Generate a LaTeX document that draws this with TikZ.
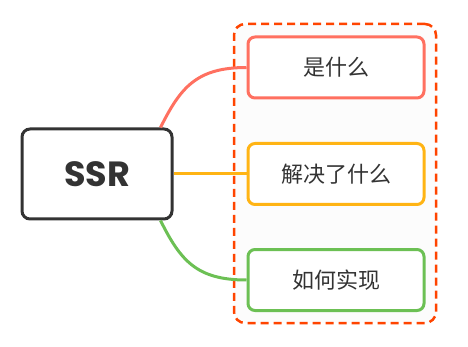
\documentclass[tikz,border=0pt]{standalone}
\usepackage{fontspec}
\setmainfont{Poppins}
\newfontfamily\cjk{Noto Sans CJK SC}
\definecolor{cRed}{RGB}{255,112,96}
\definecolor{cOrange}{RGB}{255,180,20}
\definecolor{cGreen}{RGB}{108,192,84}
\definecolor{cDark}{RGB}{51,51,51}
\definecolor{cDash}{RGB}{255,68,0}
\tikzset{
  topicbox/.style={draw, line width=3pt, rounded corners=7pt, minimum width=176pt, minimum height=61pt, fill=white, text=cDark, font=\cjk\fontsize{22}{24}\selectfont, inner sep=0pt},
  rootbox/.style={draw=cDark, line width=3pt, rounded corners=8pt, minimum width=150pt, minimum height=90pt, fill=white, text=cDark, font=\bfseries\fontsize{35}{38}\selectfont, inner sep=0pt},
  branch/.style={line width=3pt}
}
\begin{document}
\begin{tikzpicture}[x=1pt,y=-1pt]
\useasboundingbox (0,0) rectangle (468,347);
\node[draw=cDash, line width=2.5pt, dash pattern=on 8pt off 5pt, rounded corners=11pt, minimum width=202pt, minimum height=299pt, fill=white!99!black, inner sep=0pt] (group) at (335,173.5) {};
\node[rootbox] (root) at (97,174) {SSR};
\node[topicbox, draw=cRed] (t1) at (336,67.5) {是什么};
\node[topicbox, draw=cOrange] (t2) at (336,174) {解决了什么};
\node[topicbox, draw=cGreen] (t3) at (336,280) {如何实现};
\coordinate (s1) at ([xshift=-13pt]root.north east);
\coordinate (s3) at ([xshift=-13pt]root.south east);
\draw[branch, cRed] (s1) .. controls +(20,-40) and +(-50,0) .. (t1.west);
\draw[branch, cOrange] (root.east) -- (t2.west);
\draw[branch, cGreen] (s3) .. controls +(20,40) and +(-50,0) .. (t3.west);
\end{tikzpicture}
\end{document}
